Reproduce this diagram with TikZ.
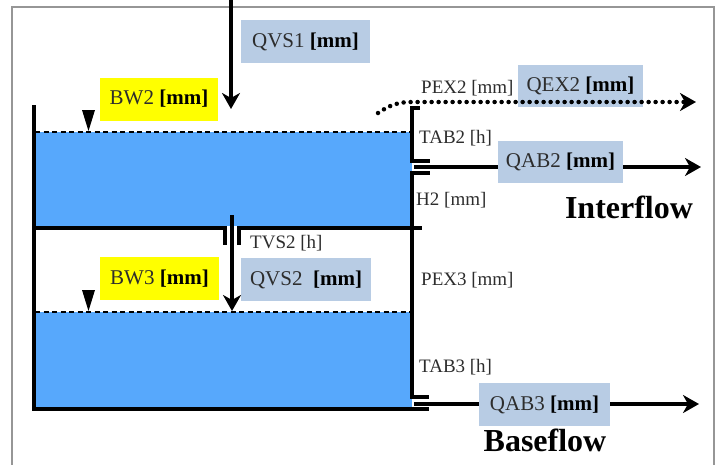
\documentclass[tikz,border=0pt]{standalone}
\usepackage{fontspec}
\setmainfont{Liberation Serif}
\usetikzlibrary{arrows.meta}
\definecolor{water}{RGB}{87,168,252}
\definecolor{lbox}{RGB}{184,204,228}
\definecolor{ybox}{RGB}{255,255,0}
\definecolor{frame}{RGB}{150,150,150}
\definecolor{txt}{RGB}{45,45,45}
\tikzset{
  wall/.style={line width=3.3pt,line cap=rect},
  flowline/.style={line width=3.4pt},
  flow/.style={flowline,-{Stealth[length=16pt,width=18pt,inset=5pt]}},
  level/.style={line width=1.3pt,dash pattern=on 5pt off 3.5pt},
  bluelab/.style={fill=lbox,text=txt,minimum width=129pt,minimum height=43pt,inner sep=0pt,font=\fontsize{21}{24}\selectfont},
  yellab/.style={fill=ybox,text=txt,minimum width=118pt,minimum height=43pt,inner sep=0pt,font=\fontsize{21}{24}\selectfont},
  plainlab/.style={text=txt,inner sep=0pt,anchor=west,font=\fontsize{19}{22}\selectfont},
  biglab/.style={inner sep=0pt,font=\fontsize{32}{36}\selectfont\bfseries},
  marker/.style={fill=black,draw=none}
}
\newcommand{\unitmm}{\textcolor{black}{\textbf{[mm]}}}
\begin{document}
\begin{tikzpicture}[x=1pt,y=-1pt]
\useasboundingbox (0,0) rectangle (722,464);
\clip (0,0) rectangle (722,464);
% frame
\draw[frame,line width=1.5pt] (12,7) rectangle (714,480);
% water
\fill[water] (35,132) rectangle (412,226);
\fill[water] (35,312) rectangle (412,409);
\draw[level] (35,132) -- (412,132);
\draw[level] (35,312) -- (412,312);
% tank walls
\draw[wall] (34,107) -- (34,409) -- (427,409);
\draw[wall] (34,228) -- (225,228) -- (225,243);
\draw[wall] (239,243) -- (239,228) -- (412,228);
\draw[wall] (418,108) -- (412,108) -- (412,161) -- (428,161);
\draw[wall] (428,173) -- (412,173) -- (412,397) -- (427,397);
\draw[wall] (412,228) -- (420,228);
% level markers
\fill[marker] (82,110) -- (95,110) -- (88.5,131) -- cycle;
\fill[marker] (82,290) -- (95,290) -- (88.5,311) -- cycle;
% labels
\node[bluelab] (qvs1) at (305.5,41.5) {QVS1 \unitmm};
\node[yellab] (bw2) at (159,99) {BW2 \unitmm};
\node[bluelab,minimum width=125pt,minimum height=42pt] (qex2) at (580.5,86) {QEX2 \unitmm};
\node[plainlab] (pex2) at (421,88) {PEX2 [mm]};
\node[plainlab] (tab2) at (419,138) {TAB2 [h]};
\node[plainlab] (h2) at (416,200) {H2 [mm]};
\node[plainlab] (tvs2) at (250,243) {TVS2 [h]};
\node[yellab,minimum width=119pt] (bw3) at (159.5,278.5) {BW3 \unitmm};
\node[bluelab,minimum width=130pt] (qvs2) at (306,279.5) {QVS2\ \ \unitmm};
\node[plainlab] (pex3) at (421,280) {PEX3 [mm]};
\node[plainlab] (tab3) at (419,367) {TAB3 [h]};
\node[biglab] (inter) at (629,207) {Interflow};
\node[biglab] (base) at (545,440) {Baseflow};
\node[bluelab,minimum width=125pt,minimum height=42pt] (qab2) at (560.5,162) {QAB2 \unitmm};
\node[bluelab,minimum width=131pt] (qab3) at (544.5,404.5) {QAB3 \unitmm};
% flow endpoints
\coordinate (qvs1s) at (231,0);
\coordinate (qvs1e) at (231,109);
\coordinate (qvs2s) at (232,215);
\coordinate (qvs2e) at (232,311);
\coordinate (ab2s) at (414,167);
\coordinate (ab2e) at (701,167);
\coordinate (ab3s) at (414,404);
\coordinate (ab3e) at (699,404);
\coordinate (ex2s) at (378,113);
\coordinate (ex2e) at (696,102);
% arrows
\draw[flow] (qvs1s) -- (qvs1e);
\draw[flow] (qvs2s) -- (qvs2e);
\draw[flowline] (ab2s) -- (qab2.west |- ab2s);
\draw[flow] (qab2.east |- ab2s) -- (ab2e);
\draw[flowline] (ab3s) -- (qab3.west |- ab3s);
\draw[flow] (qab3.east |- ab3s) -- (ab3e);
\draw[line width=4.5pt,line cap=round,dash pattern=on 0pt off 7pt,-{Stealth[length=16pt,width=18pt,inset=5pt]}]
  (ex2s) .. controls (390,105) and (398,102) .. (412,102) -- (ex2e);
\end{tikzpicture}
\end{document}
